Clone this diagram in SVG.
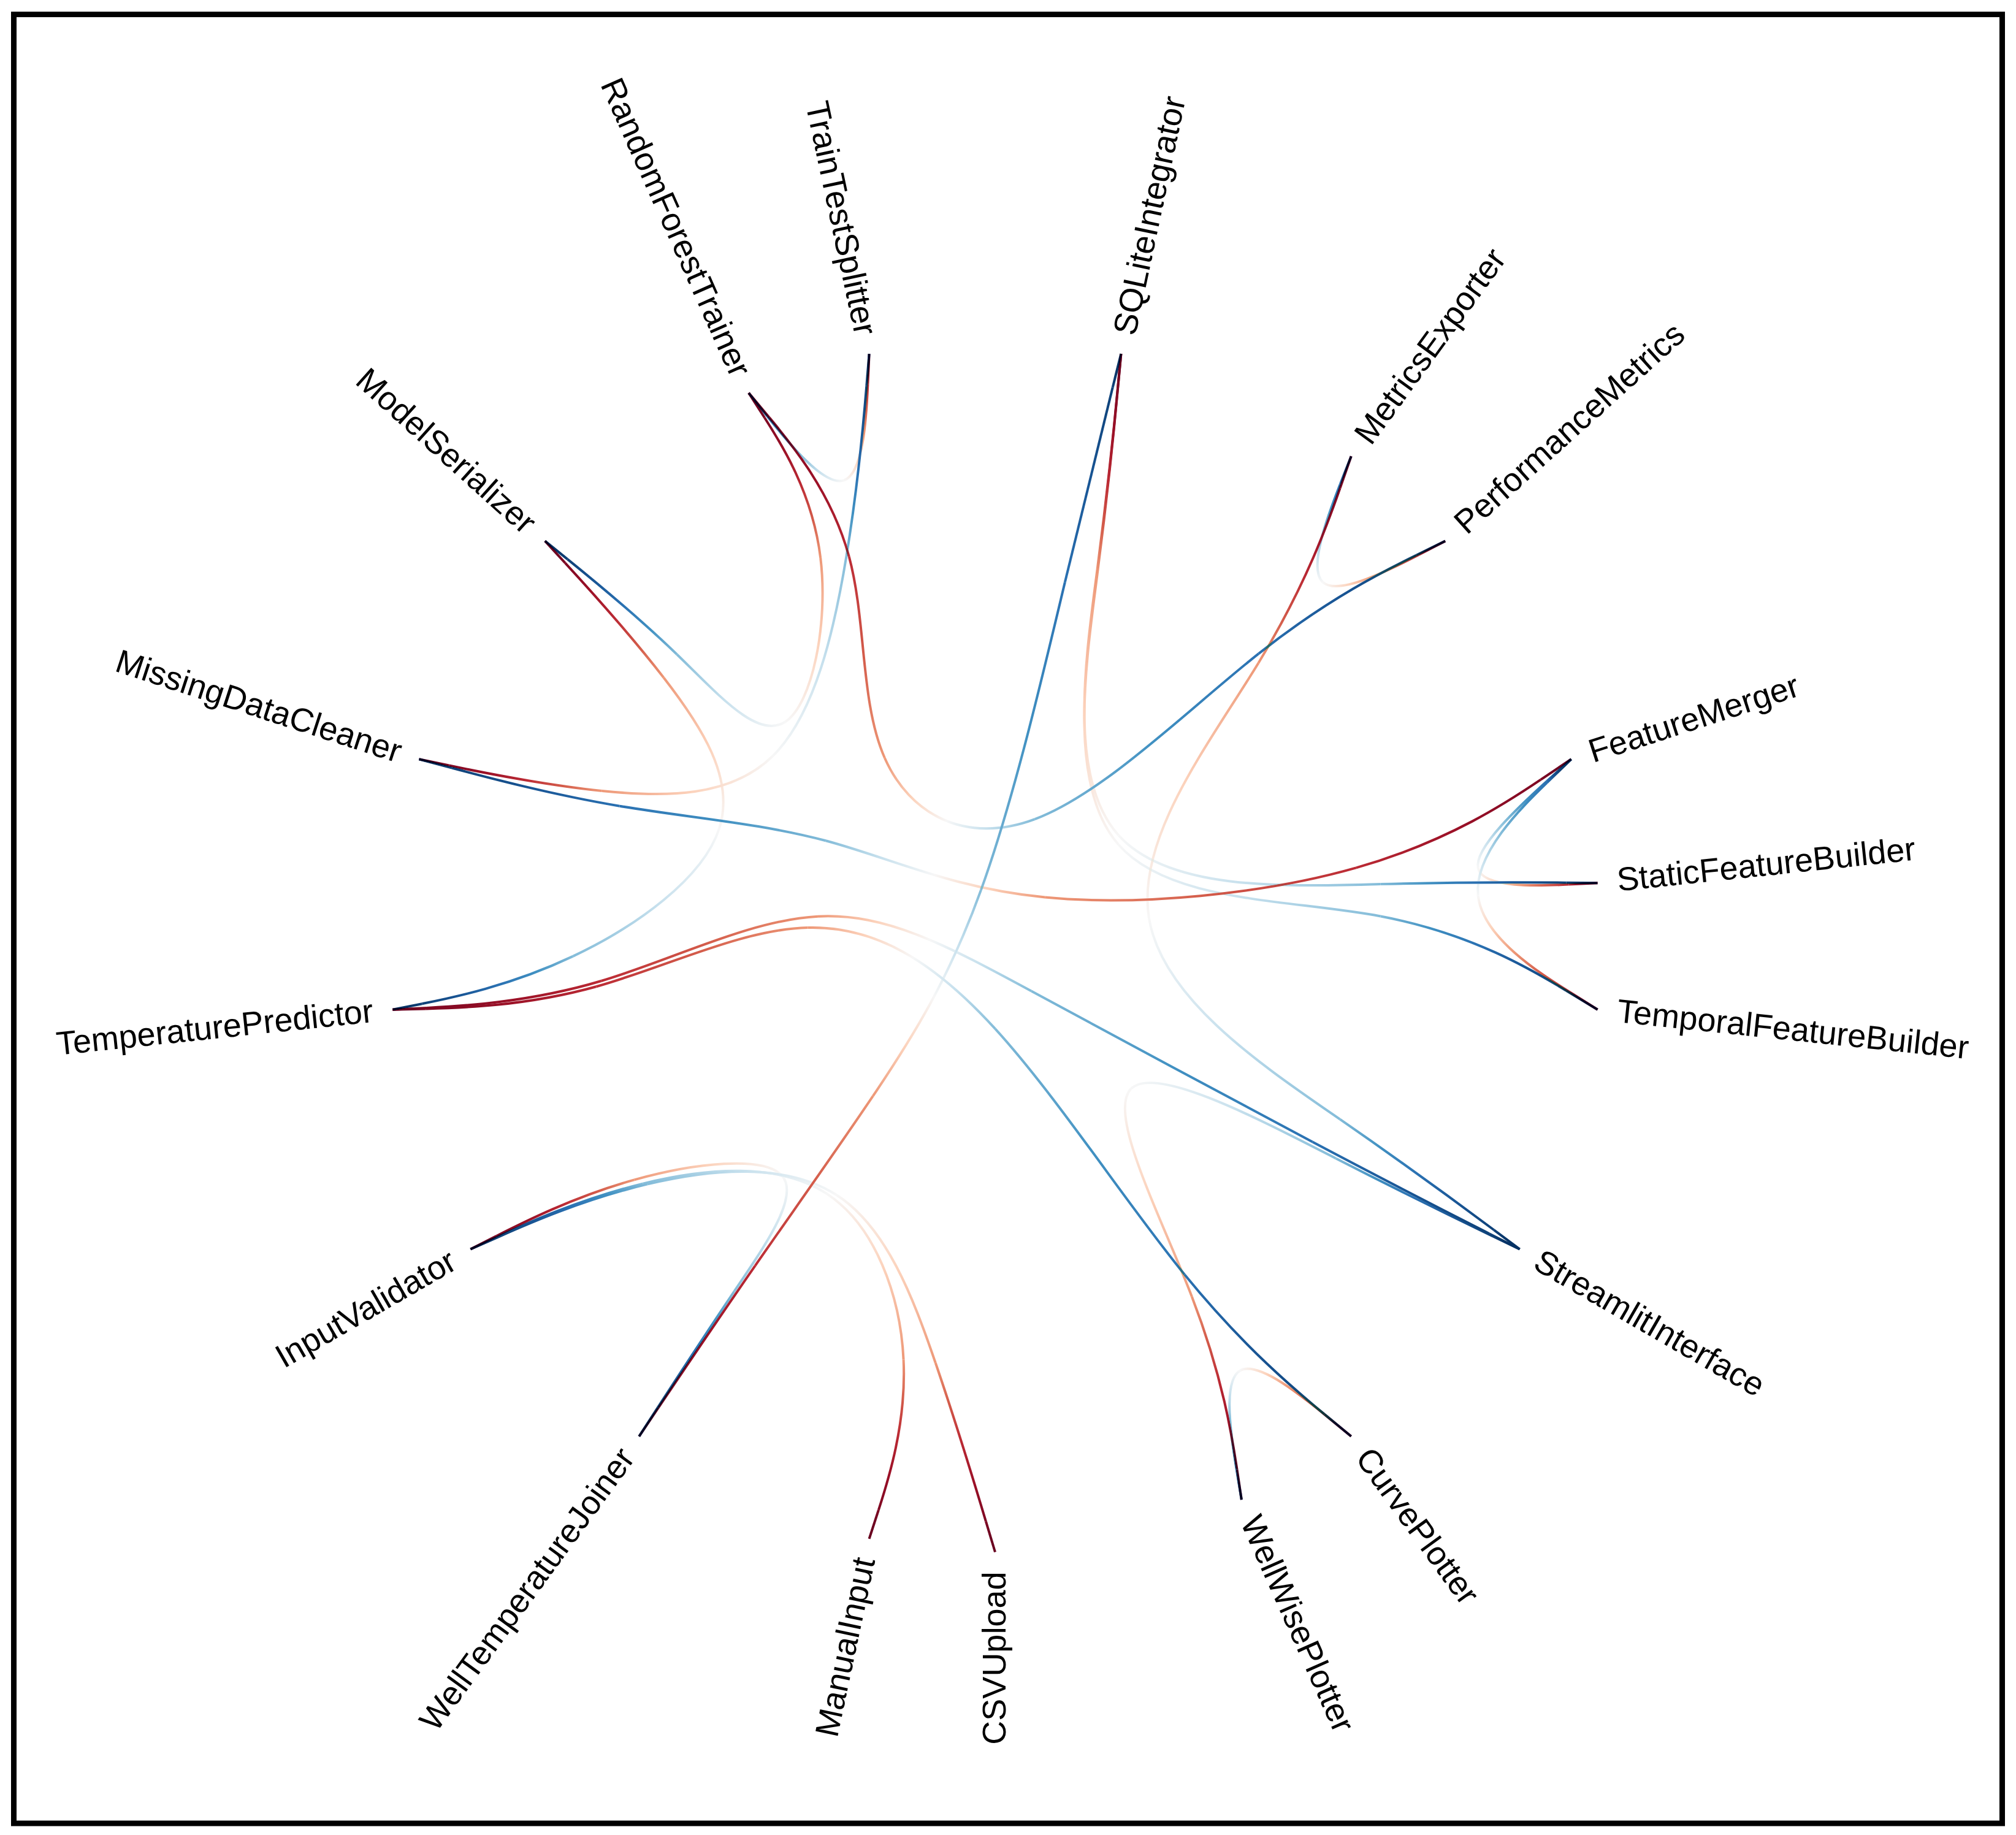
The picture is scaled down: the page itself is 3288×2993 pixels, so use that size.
<svg xmlns="http://www.w3.org/2000/svg" xmlns:xlink="http://www.w3.org/1999/xlink" width="3288" height="2993" viewBox="0 0 3288 2993">
<style>
.e{fill:none;stroke-width:4;mix-blend-mode:darken}
text{font-family:"Liberation Sans",Arial,Helvetica,sans-serif;font-size:54px;fill:#000}
</style>
<defs>
<linearGradient id="r0"><stop offset="0" stop-color="#67001f"/><stop offset=".25" stop-color="#6d0220"/><stop offset=".5" stop-color="#7e0823"/><stop offset=".75" stop-color="#9c1127"/><stop offset="1" stop-color="#bb2a34"/></linearGradient>
<linearGradient id="r1"><stop offset="0" stop-color="#bb2a34"/><stop offset=".25" stop-color="#d45d4b"/><stop offset=".5" stop-color="#ee9877"/><stop offset=".75" stop-color="#fcd2bb"/><stop offset="1" stop-color="#f7f7f7"/></linearGradient>
<linearGradient id="r2"><stop offset="0" stop-color="#f7f7f7"/><stop offset=".25" stop-color="#c6e0ed"/><stop offset=".5" stop-color="#83bcd9"/><stop offset=".75" stop-color="#4191c2"/><stop offset="1" stop-color="#2a71b2"/></linearGradient>
<linearGradient id="r3"><stop offset="0" stop-color="#2a71b2"/><stop offset=".25" stop-color="#195696"/><stop offset=".5" stop-color="#0e4178"/><stop offset=".75" stop-color="#073467"/><stop offset="1" stop-color="#053061"/></linearGradient>
<linearGradient id="q0"><stop offset="0" stop-color="#67001f"/><stop offset=".5" stop-color="#6d0220"/><stop offset="1" stop-color="#7e0823"/></linearGradient>
<linearGradient id="q1"><stop offset="0" stop-color="#7e0823"/><stop offset=".25" stop-color="#9c1127"/><stop offset=".5" stop-color="#bb2a34"/><stop offset=".75" stop-color="#d45d4b"/><stop offset="1" stop-color="#ee9877"/></linearGradient>
<linearGradient id="q2"><stop offset="0" stop-color="#ee9877"/><stop offset=".5" stop-color="#fcd2bb"/><stop offset="1" stop-color="#f7f7f7"/></linearGradient>
<linearGradient id="q3"><stop offset="0" stop-color="#f7f7f7"/><stop offset=".5" stop-color="#c6e0ed"/><stop offset="1" stop-color="#83bcd9"/></linearGradient>
<linearGradient id="q4"><stop offset="0" stop-color="#83bcd9"/><stop offset=".25" stop-color="#4191c2"/><stop offset=".5" stop-color="#2a71b2"/><stop offset=".75" stop-color="#195696"/><stop offset="1" stop-color="#0e4178"/></linearGradient>
<linearGradient id="q5"><stop offset="0" stop-color="#0e4178"/><stop offset=".5" stop-color="#073467"/><stop offset="1" stop-color="#053061"/></linearGradient>
<linearGradient id="h1"><stop offset="0" stop-color="#7e0823"/><stop offset=".5" stop-color="#9c1127"/><stop offset="1" stop-color="#bb2a34"/></linearGradient>
<linearGradient id="h2"><stop offset="0" stop-color="#bb2a34"/><stop offset=".5" stop-color="#d45d4b"/><stop offset="1" stop-color="#ee9877"/></linearGradient>
<linearGradient id="h3"><stop offset="0" stop-color="#ee9877"/><stop offset=".25" stop-color="#fcd2bb"/><stop offset=".5" stop-color="#f7f7f7"/><stop offset=".75" stop-color="#c6e0ed"/><stop offset="1" stop-color="#83bcd9"/></linearGradient>
<linearGradient id="h4"><stop offset="0" stop-color="#83bcd9"/><stop offset=".5" stop-color="#4191c2"/><stop offset="1" stop-color="#2a71b2"/></linearGradient>
<linearGradient id="h5"><stop offset="0" stop-color="#2a71b2"/><stop offset=".5" stop-color="#195696"/><stop offset="1" stop-color="#0e4178"/></linearGradient>

<linearGradient id="e1a" xlink:href="#r0" gradientUnits="userSpaceOnUse" x1="1417.6" y1="577.1" x2="1415.4" y2="626.1"/>
<linearGradient id="e1b" xlink:href="#r1" gradientUnits="userSpaceOnUse" x1="1415.4" y1="626.1" x2="1376.1" y2="783.6"/>
<linearGradient id="e1c" xlink:href="#r2" gradientUnits="userSpaceOnUse" x1="1376.1" y1="783.6" x2="1251.7" y2="679.2"/>
<linearGradient id="e1d" xlink:href="#r3" gradientUnits="userSpaceOnUse" x1="1251.7" y1="679.2" x2="1221.1" y2="640.9"/>

<linearGradient id="e10a" xlink:href="#r0" gradientUnits="userSpaceOnUse" x1="2357.2" y1="882.4" x2="2313.7" y2="905"/>
<linearGradient id="e10b" xlink:href="#r1" gradientUnits="userSpaceOnUse" x1="2313.7" y1="905" x2="2157.6" y2="949.7"/>
<linearGradient id="e10c" xlink:href="#r2" gradientUnits="userSpaceOnUse" x1="2157.6" y1="949.7" x2="2185.8" y2="789.8"/>
<linearGradient id="e10d" xlink:href="#r3" gradientUnits="userSpaceOnUse" x1="2185.8" y1="789.8" x2="2203.7" y2="744.2"/>

<linearGradient id="e12a" xlink:href="#r0" gradientUnits="userSpaceOnUse" x1="2605.6" y1="1440.2" x2="2558.7" y2="1442.6"/>
<linearGradient id="e12b" xlink:href="#r1" gradientUnits="userSpaceOnUse" x1="2558.7" y1="1442.6" x2="2410.7" y2="1415.9"/>
<linearGradient id="e12c" xlink:href="#r2" gradientUnits="userSpaceOnUse" x1="2410.7" y1="1415.9" x2="2522.8" y2="1274.2"/>
<linearGradient id="e12d" xlink:href="#r3" gradientUnits="userSpaceOnUse" x1="2522.8" y1="1274.2" x2="2562.6" y2="1238.2"/>

<linearGradient id="e13a" xlink:href="#r0" gradientUnits="userSpaceOnUse" x1="2605.6" y1="1646.8" x2="2558.7" y2="1617.3"/>
<linearGradient id="e13b" xlink:href="#r1" gradientUnits="userSpaceOnUse" x1="2558.7" y1="1617.3" x2="2410.7" y2="1460.7"/>
<linearGradient id="e13c" xlink:href="#r2" gradientUnits="userSpaceOnUse" x1="2410.7" y1="1460.7" x2="2522.8" y2="1276.8"/>
<linearGradient id="e13d" xlink:href="#r3" gradientUnits="userSpaceOnUse" x1="2522.8" y1="1276.8" x2="2562.6" y2="1238.2"/>

<linearGradient id="e17a" xlink:href="#r0" gradientUnits="userSpaceOnUse" x1="2203.7" y1="2342.8" x2="2165.9" y2="2311.7"/>
<linearGradient id="e17b" xlink:href="#r1" gradientUnits="userSpaceOnUse" x1="2165.9" y1="2311.7" x2="2022.5" y2="2235.5"/>
<linearGradient id="e17c" xlink:href="#r2" gradientUnits="userSpaceOnUse" x1="2022.5" y1="2235.5" x2="2016.9" y2="2397.8"/>
<linearGradient id="e17d" xlink:href="#r3" gradientUnits="userSpaceOnUse" x1="2016.9" y1="2397.8" x2="2024.9" y2="2446.1"/>

<linearGradient id="e2a" xlink:href="#q0" gradientUnits="userSpaceOnUse" x1="1221.1" y1="640.9" x2="1247.1" y2="681.5"/>
<linearGradient id="e2b" xlink:href="#q1" gradientUnits="userSpaceOnUse" x1="1247.1" y1="681.5" x2="1338.2" y2="909.9"/>
<linearGradient id="e2c" xlink:href="#q2" gradientUnits="userSpaceOnUse" x1="1338.2" y1="909.9" x2="1280.5" y2="1177.5"/>
<linearGradient id="e2d" xlink:href="#q3" gradientUnits="userSpaceOnUse" x1="1280.5" y1="1177.5" x2="1104.2" y2="1067.5"/>
<linearGradient id="e2e" xlink:href="#q4" gradientUnits="userSpaceOnUse" x1="1104.2" y1="1067.5" x2="925.6" y2="912.1"/>
<linearGradient id="e2f" xlink:href="#q5" gradientUnits="userSpaceOnUse" x1="925.6" y1="912.1" x2="888.8" y2="882.4"/>

<linearGradient id="e4a" xlink:href="#q0" gradientUnits="userSpaceOnUse" x1="888.8" y1="882.4" x2="921.9" y2="918.4"/>
<linearGradient id="e4b" xlink:href="#q1" gradientUnits="userSpaceOnUse" x1="921.9" y1="918.4" x2="1082.4" y2="1105.2"/>
<linearGradient id="e4c" xlink:href="#q2" gradientUnits="userSpaceOnUse" x1="1082.4" y1="1105.2" x2="1173" y2="1351.5"/>
<linearGradient id="e4d" xlink:href="#q3" gradientUnits="userSpaceOnUse" x1="1173" y1="1351.5" x2="934.7" y2="1559.6"/>
<linearGradient id="e4e" xlink:href="#q4" gradientUnits="userSpaceOnUse" x1="934.7" y1="1559.6" x2="688.4" y2="1637.2"/>
<linearGradient id="e4f" xlink:href="#q5" gradientUnits="userSpaceOnUse" x1="688.4" y1="1637.2" x2="640.4" y2="1646.8"/>

<linearGradient id="e5a" xlink:href="#q0" gradientUnits="userSpaceOnUse" x1="683.4" y1="1238.2" x2="732.3" y2="1248.5"/>
<linearGradient id="e5b" xlink:href="#q1" gradientUnits="userSpaceOnUse" x1="732.3" y1="1248.5" x2="981.7" y2="1290"/>
<linearGradient id="e5c" xlink:href="#q2" gradientUnits="userSpaceOnUse" x1="981.7" y1="1290" x2="1260.5" y2="1233"/>
<linearGradient id="e5d" xlink:href="#q3" gradientUnits="userSpaceOnUse" x1="1260.5" y1="1233" x2="1380.5" y2="907"/>
<linearGradient id="e5e" xlink:href="#q4" gradientUnits="userSpaceOnUse" x1="1380.5" y1="907" x2="1413.3" y2="629.3"/>
<linearGradient id="e5f" xlink:href="#q5" gradientUnits="userSpaceOnUse" x1="1413.3" y1="629.3" x2="1417.6" y2="577.1"/>

<linearGradient id="e8a" xlink:href="#q0" gradientUnits="userSpaceOnUse" x1="1828.4" y1="577.1" x2="1823.5" y2="628.1"/>
<linearGradient id="e8b" xlink:href="#q1" gradientUnits="userSpaceOnUse" x1="1823.5" y1="628.1" x2="1789.6" y2="928.9"/>
<linearGradient id="e8c" xlink:href="#q2" gradientUnits="userSpaceOnUse" x1="1789.6" y1="928.9" x2="1824.3" y2="1362.3"/>
<linearGradient id="e8d" xlink:href="#q3" gradientUnits="userSpaceOnUse" x1="1824.3" y1="1362.3" x2="2251.7" y2="1442"/>
<linearGradient id="e8e" xlink:href="#q4" gradientUnits="userSpaceOnUse" x1="2251.7" y1="1442" x2="2554.4" y2="1439.7"/>
<linearGradient id="e8f" xlink:href="#q5" gradientUnits="userSpaceOnUse" x1="2554.4" y1="1439.7" x2="2605.6" y2="1440.2"/>

<linearGradient id="e9a" xlink:href="#q0" gradientUnits="userSpaceOnUse" x1="1828.4" y1="577.1" x2="1823.5" y2="629.4"/>
<linearGradient id="e9b" xlink:href="#q1" gradientUnits="userSpaceOnUse" x1="1823.5" y1="629.4" x2="1789.6" y2="936.7"/>
<linearGradient id="e9c" xlink:href="#q2" gradientUnits="userSpaceOnUse" x1="1789.6" y1="936.7" x2="1824.3" y2="1377.8"/>
<linearGradient id="e9d" xlink:href="#q3" gradientUnits="userSpaceOnUse" x1="1824.3" y1="1377.8" x2="2251.7" y2="1494.5"/>
<linearGradient id="e9e" xlink:href="#q4" gradientUnits="userSpaceOnUse" x1="2251.7" y1="1494.5" x2="2554.4" y2="1615.7"/>
<linearGradient id="e9f" xlink:href="#q5" gradientUnits="userSpaceOnUse" x1="2554.4" y1="1615.7" x2="2605.6" y2="1646.8"/>

<linearGradient id="e11a" xlink:href="#q0" gradientUnits="userSpaceOnUse" x1="2203.7" y1="744.2" x2="2185.6" y2="796.2"/>
<linearGradient id="e11b" xlink:href="#q1" gradientUnits="userSpaceOnUse" x1="2185.6" y1="796.2" x2="2052.4" y2="1081.5"/>
<linearGradient id="e11c" xlink:href="#q2" gradientUnits="userSpaceOnUse" x1="2052.4" y1="1081.5" x2="1874" y2="1497.9"/>
<linearGradient id="e11d" xlink:href="#q3" gradientUnits="userSpaceOnUse" x1="1874" y1="1497.9" x2="2185.5" y2="1825.7"/>
<linearGradient id="e11e" xlink:href="#q4" gradientUnits="userSpaceOnUse" x1="2185.5" y1="1825.7" x2="2436.5" y2="2006.1"/>
<linearGradient id="e11f" xlink:href="#q5" gradientUnits="userSpaceOnUse" x1="2436.5" y1="2006.1" x2="2478.6" y2="2037.5"/>

<linearGradient id="e16a" xlink:href="#q0" gradientUnits="userSpaceOnUse" x1="2024.9" y1="2446.1" x2="2017.5" y2="2396.5"/>
<linearGradient id="e16b" xlink:href="#q1" gradientUnits="userSpaceOnUse" x1="2017.5" y1="2396.5" x2="1943.8" y2="2114.7"/>
<linearGradient id="e16c" xlink:href="#q2" gradientUnits="userSpaceOnUse" x1="1943.8" y1="2114.7" x2="1844.8" y2="1775.7"/>
<linearGradient id="e16d" xlink:href="#q3" gradientUnits="userSpaceOnUse" x1="1844.8" y1="1775.7" x2="2178.8" y2="1889.5"/>
<linearGradient id="e16e" xlink:href="#q4" gradientUnits="userSpaceOnUse" x1="2178.8" y1="1889.5" x2="2435.4" y2="2016.7"/>
<linearGradient id="e16f" xlink:href="#q5" gradientUnits="userSpaceOnUse" x1="2435.4" y1="2016.7" x2="2478.6" y2="2037.5"/>

<linearGradient id="e18a" xlink:href="#q0" gradientUnits="userSpaceOnUse" x1="1623" y1="2531.5" x2="1607.9" y2="2481.3"/>
<linearGradient id="e18b" xlink:href="#q1" gradientUnits="userSpaceOnUse" x1="1607.9" y1="2481.3" x2="1525.8" y2="2223"/>
<linearGradient id="e18c" xlink:href="#q2" gradientUnits="userSpaceOnUse" x1="1525.8" y1="2223" x2="1363.9" y2="1948.8"/>
<linearGradient id="e18d" xlink:href="#q3" gradientUnits="userSpaceOnUse" x1="1363.9" y1="1948.8" x2="1056.2" y2="1931.4"/>
<linearGradient id="e18e" xlink:href="#q4" gradientUnits="userSpaceOnUse" x1="1056.2" y1="1931.4" x2="813.2" y2="2017.3"/>
<linearGradient id="e18f" xlink:href="#q5" gradientUnits="userSpaceOnUse" x1="813.2" y1="2017.3" x2="767.4" y2="2037.5"/>

<linearGradient id="e19a" xlink:href="#q0" gradientUnits="userSpaceOnUse" x1="1417.6" y1="2509.9" x2="1432.9" y2="2462.9"/>
<linearGradient id="e19b" xlink:href="#q1" gradientUnits="userSpaceOnUse" x1="1432.9" y1="2462.9" x2="1473.6" y2="2217.6"/>
<linearGradient id="e19c" xlink:href="#q2" gradientUnits="userSpaceOnUse" x1="1473.6" y1="2217.6" x2="1348.5" y2="1947.2"/>
<linearGradient id="e19d" xlink:href="#q3" gradientUnits="userSpaceOnUse" x1="1348.5" y1="1947.2" x2="1048.5" y2="1930.6"/>
<linearGradient id="e19e" xlink:href="#q4" gradientUnits="userSpaceOnUse" x1="1048.5" y1="1930.6" x2="811.9" y2="2017.1"/>
<linearGradient id="e19f" xlink:href="#q5" gradientUnits="userSpaceOnUse" x1="811.9" y1="2017.1" x2="767.4" y2="2037.5"/>

<linearGradient id="e20a" xlink:href="#q0" gradientUnits="userSpaceOnUse" x1="767.4" y1="2037.5" x2="809.5" y2="2016.1"/>
<linearGradient id="e20b" xlink:href="#q1" gradientUnits="userSpaceOnUse" x1="809.5" y1="2016.1" x2="1034.4" y2="1924.4"/>
<linearGradient id="e20c" xlink:href="#q2" gradientUnits="userSpaceOnUse" x1="1034.4" y1="1924.4" x2="1275.2" y2="1917.4"/>
<linearGradient id="e20d" xlink:href="#q3" gradientUnits="userSpaceOnUse" x1="1275.2" y1="1917.4" x2="1197.8" y2="2105.8"/>
<linearGradient id="e20e" xlink:href="#q4" gradientUnits="userSpaceOnUse" x1="1197.8" y1="2105.8" x2="1068" y2="2303.2"/>
<linearGradient id="e20f" xlink:href="#q5" gradientUnits="userSpaceOnUse" x1="1068" y1="2303.2" x2="1042.3" y2="2342.8"/>

<linearGradient id="e3a" xlink:href="#q0" gradientUnits="userSpaceOnUse" x1="1221.1" y1="640.9" x2="1254.9" y2="681.2"/>
<linearGradient id="e3b" xlink:href="#h1" gradientUnits="userSpaceOnUse" x1="1254.9" y1="681.2" x2="1384.8" y2="908.1"/>
<linearGradient id="e3c" xlink:href="#h2" gradientUnits="userSpaceOnUse" x1="1384.8" y1="908.1" x2="1442.9" y2="1236.3"/>
<linearGradient id="e3d" xlink:href="#h3" gradientUnits="userSpaceOnUse" x1="1442.9" y1="1236.3" x2="1687.7" y2="1336.2"/>
<linearGradient id="e3e" xlink:href="#h4" gradientUnits="userSpaceOnUse" x1="1687.7" y1="1336.2" x2="2052.8" y2="1066.1"/>
<linearGradient id="e3f" xlink:href="#h5" gradientUnits="userSpaceOnUse" x1="2052.8" y1="1066.1" x2="2310" y2="905.5"/>
<linearGradient id="e3g" xlink:href="#q5" gradientUnits="userSpaceOnUse" x1="2310" y1="905.5" x2="2357.2" y2="882.4"/>

<linearGradient id="e6a" xlink:href="#q0" gradientUnits="userSpaceOnUse" x1="2562.6" y1="1238.2" x2="2512.9" y2="1271.7"/>
<linearGradient id="e6b" xlink:href="#h1" gradientUnits="userSpaceOnUse" x1="2512.9" y1="1271.7" x2="2211.9" y2="1415.4"/>
<linearGradient id="e6c" xlink:href="#h2" gradientUnits="userSpaceOnUse" x1="2211.9" y1="1415.4" x2="1704.2" y2="1463.6"/>
<linearGradient id="e6d" xlink:href="#h3" gradientUnits="userSpaceOnUse" x1="1704.2" y1="1463.6" x2="1346.9" y2="1371.3"/>
<linearGradient id="e6e" xlink:href="#h4" gradientUnits="userSpaceOnUse" x1="1346.9" y1="1371.3" x2="1010.6" y2="1314.7"/>
<linearGradient id="e6f" xlink:href="#h5" gradientUnits="userSpaceOnUse" x1="1010.6" y1="1314.7" x2="737.2" y2="1252.6"/>
<linearGradient id="e6g" xlink:href="#q5" gradientUnits="userSpaceOnUse" x1="737.2" y1="1252.6" x2="683.4" y2="1238.2"/>

<linearGradient id="e7a" xlink:href="#q0" gradientUnits="userSpaceOnUse" x1="1042.3" y1="2342.8" x2="1073.7" y2="2296.2"/>
<linearGradient id="e7b" xlink:href="#h1" gradientUnits="userSpaceOnUse" x1="1073.7" y1="2296.2" x2="1231.7" y2="2064.3"/>
<linearGradient id="e7c" xlink:href="#h2" gradientUnits="userSpaceOnUse" x1="1231.7" y1="2064.3" x2="1423.8" y2="1787.7"/>
<linearGradient id="e7d" xlink:href="#h3" gradientUnits="userSpaceOnUse" x1="1423.8" y1="1787.7" x2="1599.9" y2="1451.9"/>
<linearGradient id="e7e" xlink:href="#h4" gradientUnits="userSpaceOnUse" x1="1599.9" y1="1451.9" x2="1736.9" y2="949.5"/>
<linearGradient id="e7f" xlink:href="#h5" gradientUnits="userSpaceOnUse" x1="1736.9" y1="949.5" x2="1814.8" y2="631.6"/>
<linearGradient id="e7g" xlink:href="#q5" gradientUnits="userSpaceOnUse" x1="1814.8" y1="631.6" x2="1828.4" y2="577.1"/>

<linearGradient id="e14a" xlink:href="#q0" gradientUnits="userSpaceOnUse" x1="640.4" y1="1646.8" x2="696" y2="1643.9"/>
<linearGradient id="e14b" xlink:href="#h1" gradientUnits="userSpaceOnUse" x1="696" y1="1643.9" x2="980.5" y2="1600"/>
<linearGradient id="e14c" xlink:href="#h2" gradientUnits="userSpaceOnUse" x1="980.5" y1="1600" x2="1334" y2="1494.7"/>
<linearGradient id="e14d" xlink:href="#h3" gradientUnits="userSpaceOnUse" x1="1334" y1="1494.7" x2="1682.1" y2="1616.5"/>
<linearGradient id="e14e" xlink:href="#h4" gradientUnits="userSpaceOnUse" x1="1682.1" y1="1616.5" x2="2140.6" y2="1862.5"/>
<linearGradient id="e14f" xlink:href="#h5" gradientUnits="userSpaceOnUse" x1="2140.6" y1="1862.5" x2="2429" y2="2012.2"/>
<linearGradient id="e14g" xlink:href="#q5" gradientUnits="userSpaceOnUse" x1="2429" y1="2012.2" x2="2478.6" y2="2037.5"/>

<linearGradient id="e15a" xlink:href="#q0" gradientUnits="userSpaceOnUse" x1="640.4" y1="1646.8" x2="694.6" y2="1645.4"/>
<linearGradient id="e15b" xlink:href="#h1" gradientUnits="userSpaceOnUse" x1="694.6" y1="1645.4" x2="972.3" y2="1609.2"/>
<linearGradient id="e15c" xlink:href="#h2" gradientUnits="userSpaceOnUse" x1="972.3" y1="1609.2" x2="1317.5" y2="1513"/>
<linearGradient id="e15d" xlink:href="#h3" gradientUnits="userSpaceOnUse" x1="1317.5" y1="1513" x2="1623.2" y2="1678.1"/>
<linearGradient id="e15e" xlink:href="#h4" gradientUnits="userSpaceOnUse" x1="1623.2" y1="1678.1" x2="1932.1" y2="2079"/>
<linearGradient id="e15f" xlink:href="#h5" gradientUnits="userSpaceOnUse" x1="1932.1" y1="2079" x2="2160.3" y2="2306.9"/>
<linearGradient id="e15g" xlink:href="#q5" gradientUnits="userSpaceOnUse" x1="2160.3" y1="2306.9" x2="2203.7" y2="2342.8"/>
</defs>

<rect x="0" y="0" width="3288" height="2993" fill="#ffffff"/>
<rect x="22.5" y="23.5" width="3243" height="2950.5" fill="none" stroke="#000" stroke-width="9"/>

<g id="connectors">
<g id="edge-TrainTestSplitter-RandomForestTrainer">
<path class="e" stroke="url(#e1a)" d="M1417.6,577.1 L1415.4,626.1"/>
<path class="e" stroke="url(#e1b)" d="M1415.4,626.1 C1413.2,675 1408.9,773 1376.1,783.6"/>
<path class="e" stroke="url(#e1c)" d="M1376.1,783.6 C1343.4,794.2 1282.2,717.6 1251.7,679.2"/>
<path class="e" stroke="url(#e1d)" d="M1251.7,679.2 L1221.1,640.9"/>
</g>
<g id="edge-RandomForestTrainer-ModelSerializer">
<path class="e" stroke="url(#e2a)" d="M1221.1,640.9 L1247.1,681.5"/>
<path class="e" stroke="url(#e2b)" d="M1247.1,681.5 C1273.2,722.2 1325.2,803.4 1338.2,909.9"/>
<path class="e" stroke="url(#e2c)" d="M1338.2,909.9 C1351.2,1016.4 1325.2,1148.2 1280.5,1177.5"/>
<path class="e" stroke="url(#e2d)" d="M1280.5,1177.5 C1235.8,1206.8 1172.6,1133.8 1104.2,1067.5"/>
<path class="e" stroke="url(#e2e)" d="M1104.2,1067.5 C1035.8,1001.3 962.3,941.8 925.6,912.1"/>
<path class="e" stroke="url(#e2f)" d="M925.6,912.1 L888.8,882.4"/>
</g>
<g id="edge-RandomForestTrainer-PerformanceMetrics">
<path class="e" stroke="url(#e3a)" d="M1221.1,640.9 L1254.9,681.2"/>
<path class="e" stroke="url(#e3b)" d="M1254.9,681.2 C1288.7,721.6 1356.2,802.2 1384.8,908.1"/>
<path class="e" stroke="url(#e3c)" d="M1384.8,908.1 C1413.3,1014 1402.7,1145.2 1442.9,1236.3"/>
<path class="e" stroke="url(#e3d)" d="M1442.9,1236.3 C1483.1,1327.5 1574.1,1378.7 1687.7,1336.2"/>
<path class="e" stroke="url(#e3e)" d="M1687.7,1336.2 C1801.2,1293.6 1937.5,1157.3 2052.8,1066.1"/>
<path class="e" stroke="url(#e3f)" d="M2052.8,1066.1 C2168.2,974.8 2262.7,928.6 2310,905.5"/>
<path class="e" stroke="url(#e3g)" d="M2310,905.5 L2357.2,882.4"/>
</g>
<g id="edge-ModelSerializer-TemperaturePredictor">
<path class="e" stroke="url(#e4a)" d="M888.8,882.4 L921.9,918.4"/>
<path class="e" stroke="url(#e4b)" d="M921.9,918.4 C955,954.4 1021.3,1026.4 1082.4,1105.2"/>
<path class="e" stroke="url(#e4c)" d="M1082.4,1105.2 C1143.5,1184.1 1199.6,1269.7 1173,1351.5"/>
<path class="e" stroke="url(#e4d)" d="M1173,1351.5 C1146.4,1433.2 1037.3,1511.1 934.7,1559.6"/>
<path class="e" stroke="url(#e4e)" d="M934.7,1559.6 C832.2,1608.2 736.3,1627.5 688.4,1637.2"/>
<path class="e" stroke="url(#e4f)" d="M688.4,1637.2 L640.4,1646.8"/>
</g>
<g id="edge-MissingDataCleaner-TrainTestSplitter">
<path class="e" stroke="url(#e5a)" d="M683.4,1238.2 L732.3,1248.5"/>
<path class="e" stroke="url(#e5b)" d="M732.3,1248.5 C781.2,1258.8 879.2,1279.3 981.7,1290"/>
<path class="e" stroke="url(#e5c)" d="M981.7,1290 C1084.2,1300.5 1191.4,1301.2 1260.5,1233"/>
<path class="e" stroke="url(#e5d)" d="M1260.5,1233 C1329.6,1164.8 1360.6,1027.8 1380.5,907"/>
<path class="e" stroke="url(#e5e)" d="M1380.5,907 C1400.3,786.2 1409,681.6 1413.3,629.3"/>
<path class="e" stroke="url(#e5f)" d="M1413.3,629.3 L1417.6,577.1"/>
</g>
<g id="edge-FeatureMerger-MissingDataCleaner">
<path class="e" stroke="url(#e6a)" d="M2562.6,1238.2 L2512.9,1271.7"/>
<path class="e" stroke="url(#e6b)" d="M2512.9,1271.7 C2463.2,1305.2 2363.8,1372.1 2211.9,1415.4"/>
<path class="e" stroke="url(#e6c)" d="M2211.9,1415.4 C2060,1458.6 1855.6,1478.2 1704.2,1463.6"/>
<path class="e" stroke="url(#e6d)" d="M1704.2,1463.6 C1552.8,1448.9 1454.5,1400.2 1346.9,1371.3"/>
<path class="e" stroke="url(#e6e)" d="M1346.9,1371.3 C1239.4,1342.5 1122.7,1333.6 1010.6,1314.7"/>
<path class="e" stroke="url(#e6f)" d="M1010.6,1314.7 C898.5,1295.9 790.9,1267 737.2,1252.6"/>
<path class="e" stroke="url(#e6g)" d="M737.2,1252.6 L683.4,1238.2"/>
</g>
<g id="edge-WellTemperatureJoiner-SQLiteIntegrator">
<path class="e" stroke="url(#e7a)" d="M1042.3,2342.8 L1073.7,2296.2"/>
<path class="e" stroke="url(#e7b)" d="M1073.7,2296.2 C1105,2249.7 1167.7,2156.5 1231.7,2064.3"/>
<path class="e" stroke="url(#e7c)" d="M1231.7,2064.3 C1295.8,1972.1 1361.1,1880.8 1423.8,1787.7"/>
<path class="e" stroke="url(#e7d)" d="M1423.8,1787.7 C1486.5,1694.5 1546.6,1599.5 1599.9,1451.9"/>
<path class="e" stroke="url(#e7e)" d="M1599.9,1451.9 C1653.3,1304.3 1699.9,1104.1 1736.9,949.5"/>
<path class="e" stroke="url(#e7f)" d="M1736.9,949.5 C1773.9,795 1801.1,686 1814.8,631.6"/>
<path class="e" stroke="url(#e7g)" d="M1814.8,631.6 L1828.4,577.1"/>
</g>
<g id="edge-SQLiteIntegrator-StaticFeatureBuilder">
<path class="e" stroke="url(#e8a)" d="M1828.4,577.1 L1823.5,628.1"/>
<path class="e" stroke="url(#e8b)" d="M1823.5,628.1 C1818.7,679.2 1809,781.2 1789.6,928.9"/>
<path class="e" stroke="url(#e8c)" d="M1789.6,928.9 C1770.2,1076.6 1741.2,1270 1824.3,1362.3"/>
<path class="e" stroke="url(#e8d)" d="M1824.3,1362.3 C1907.4,1454.6 2102.8,1445.8 2251.7,1442"/>
<path class="e" stroke="url(#e8e)" d="M2251.7,1442 C2400.6,1438.1 2503.1,1439.2 2554.4,1439.7"/>
<path class="e" stroke="url(#e8f)" d="M2554.4,1439.7 L2605.6,1440.2"/>
</g>
<g id="edge-SQLiteIntegrator-TemporalFeatureBuilder">
<path class="e" stroke="url(#e9a)" d="M1828.4,577.1 L1823.5,629.4"/>
<path class="e" stroke="url(#e9b)" d="M1823.5,629.4 C1818.7,681.7 1809,786.4 1789.6,936.7"/>
<path class="e" stroke="url(#e9c)" d="M1789.6,936.7 C1770.2,1086.9 1741.2,1282.9 1824.3,1377.8"/>
<path class="e" stroke="url(#e9d)" d="M1824.3,1377.8 C1907.4,1472.6 2102.8,1466.5 2251.7,1494.5"/>
<path class="e" stroke="url(#e9e)" d="M2251.7,1494.5 C2400.6,1522.5 2503.1,1584.6 2554.4,1615.7"/>
<path class="e" stroke="url(#e9f)" d="M2554.4,1615.7 L2605.6,1646.8"/>
</g>
<g id="edge-PerformanceMetrics-MetricsExporter">
<path class="e" stroke="url(#e10a)" d="M2357.2,882.4 L2313.7,905"/>
<path class="e" stroke="url(#e10b)" d="M2313.7,905 C2270.2,927.6 2183.2,972.7 2157.6,949.7"/>
<path class="e" stroke="url(#e10c)" d="M2157.6,949.7 C2132,926.7 2167.9,835.4 2185.8,789.8"/>
<path class="e" stroke="url(#e10d)" d="M2185.8,789.8 L2203.7,744.2"/>
</g>
<g id="edge-MetricsExporter-StreamlitInterface">
<path class="e" stroke="url(#e11a)" d="M2203.7,744.2 L2185.6,796.2"/>
<path class="e" stroke="url(#e11b)" d="M2185.6,796.2 C2167.5,848.1 2131.2,952.1 2052.4,1081.5"/>
<path class="e" stroke="url(#e11c)" d="M2052.4,1081.5 C1973.6,1210.9 1852.1,1365.7 1874,1497.9"/>
<path class="e" stroke="url(#e11d)" d="M1874,1497.9 C1895.8,1630.1 2060.8,1739.5 2185.5,1825.7"/>
<path class="e" stroke="url(#e11e)" d="M2185.5,1825.7 C2310.1,1911.8 2394.4,1974.7 2436.5,2006.1"/>
<path class="e" stroke="url(#e11f)" d="M2436.5,2006.1 L2478.6,2037.5"/>
</g>
<g id="edge-StaticFeatureBuilder-FeatureMerger">
<path class="e" stroke="url(#e12a)" d="M2605.6,1440.2 L2558.7,1442.6"/>
<path class="e" stroke="url(#e12b)" d="M2558.7,1442.6 C2511.7,1444.9 2417.9,1449.6 2410.7,1415.9"/>
<path class="e" stroke="url(#e12c)" d="M2410.7,1415.9 C2403.5,1382.3 2483.1,1310.2 2522.8,1274.2"/>
<path class="e" stroke="url(#e12d)" d="M2522.8,1274.2 L2562.6,1238.2"/>
</g>
<g id="edge-TemporalFeatureBuilder-FeatureMerger">
<path class="e" stroke="url(#e13a)" d="M2605.6,1646.8 L2558.7,1617.3"/>
<path class="e" stroke="url(#e13b)" d="M2558.7,1617.3 C2511.7,1587.8 2417.9,1528.8 2410.7,1460.7"/>
<path class="e" stroke="url(#e13c)" d="M2410.7,1460.7 C2403.5,1392.6 2483.1,1315.4 2522.8,1276.8"/>
<path class="e" stroke="url(#e13d)" d="M2522.8,1276.8 L2562.6,1238.2"/>
</g>
<g id="edge-TemperaturePredictor-StreamlitInterface">
<path class="e" stroke="url(#e14a)" d="M640.4,1646.8 L696,1643.9"/>
<path class="e" stroke="url(#e14b)" d="M696,1643.9 C751.6,1641 862.7,1635.1 980.5,1600"/>
<path class="e" stroke="url(#e14c)" d="M980.5,1600 C1098.3,1564.9 1222.8,1500.6 1334,1494.7"/>
<path class="e" stroke="url(#e14d)" d="M1334,1494.7 C1445.2,1488.9 1543.1,1541.5 1682.1,1616.5"/>
<path class="e" stroke="url(#e14e)" d="M1682.1,1616.5 C1821.1,1691.4 2001,1788.6 2140.6,1862.5"/>
<path class="e" stroke="url(#e14f)" d="M2140.6,1862.5 C2280.2,1936.4 2379.4,1986.9 2429,2012.2"/>
<path class="e" stroke="url(#e14g)" d="M2429,2012.2 L2478.6,2037.5"/>
</g>
<g id="edge-TemperaturePredictor-CurvePlotter">
<path class="e" stroke="url(#e15a)" d="M640.4,1646.8 L694.6,1645.4"/>
<path class="e" stroke="url(#e15b)" d="M694.6,1645.4 C748.8,1644 857.3,1641.2 972.3,1609.2"/>
<path class="e" stroke="url(#e15c)" d="M972.3,1609.2 C1087.4,1577.1 1209,1515.8 1317.5,1513"/>
<path class="e" stroke="url(#e15d)" d="M1317.5,1513 C1425.9,1510.2 1521.1,1565.9 1623.2,1678.1"/>
<path class="e" stroke="url(#e15e)" d="M1623.2,1678.1 C1725.2,1790.2 1834.2,1958.8 1932.1,2079"/>
<path class="e" stroke="url(#e15f)" d="M1932.1,2079 C2030,2199.2 2116.8,2271 2160.3,2306.9"/>
<path class="e" stroke="url(#e15g)" d="M2160.3,2306.9 L2203.7,2342.8"/>
</g>
<g id="edge-WellWisePlotter-StreamlitInterface">
<path class="e" stroke="url(#e16a)" d="M2024.9,2446.1 L2017.5,2396.5"/>
<path class="e" stroke="url(#e16b)" d="M2017.5,2396.5 C2010,2346.9 1995.1,2247.6 1943.8,2114.7"/>
<path class="e" stroke="url(#e16c)" d="M1943.8,2114.7 C1892.6,1981.7 1804.9,1815 1844.8,1775.7"/>
<path class="e" stroke="url(#e16d)" d="M1844.8,1775.7 C1884.6,1736.5 2051.9,1824.6 2178.8,1889.5"/>
<path class="e" stroke="url(#e16e)" d="M2178.8,1889.5 C2305.7,1954.4 2392.1,1995.9 2435.4,2016.7"/>
<path class="e" stroke="url(#e16f)" d="M2435.4,2016.7 L2478.6,2037.5"/>
</g>
<g id="edge-CurvePlotter-WellWisePlotter">
<path class="e" stroke="url(#e17a)" d="M2203.7,2342.8 L2165.9,2311.7"/>
<path class="e" stroke="url(#e17b)" d="M2165.9,2311.7 C2128,2280.5 2052.3,2218.3 2022.5,2235.5"/>
<path class="e" stroke="url(#e17c)" d="M2022.5,2235.5 C1992.7,2252.7 2008.8,2349.4 2016.9,2397.8"/>
<path class="e" stroke="url(#e17d)" d="M2016.9,2397.8 L2024.9,2446.1"/>
</g>
<g id="edge-CSVUpload-InputValidator">
<path class="e" stroke="url(#e18a)" d="M1623,2531.5 L1607.9,2481.3"/>
<path class="e" stroke="url(#e18b)" d="M1607.9,2481.3 C1592.8,2431 1562.6,2330.5 1525.8,2223"/>
<path class="e" stroke="url(#e18c)" d="M1525.8,2223 C1489,2115.6 1445.7,2001.1 1363.9,1948.8"/>
<path class="e" stroke="url(#e18d)" d="M1363.9,1948.8 C1282.2,1896.5 1162,1906.2 1056.2,1931.4"/>
<path class="e" stroke="url(#e18e)" d="M1056.2,1931.4 C950.4,1956.5 858.9,1997 813.2,2017.3"/>
<path class="e" stroke="url(#e18f)" d="M813.2,2017.3 L767.4,2037.5"/>
</g>
<g id="edge-ManualInput-InputValidator">
<path class="e" stroke="url(#e19a)" d="M1417.6,2509.9 L1432.9,2462.9"/>
<path class="e" stroke="url(#e19b)" d="M1432.9,2462.9 C1448.2,2415.8 1478.7,2321.7 1473.6,2217.6"/>
<path class="e" stroke="url(#e19c)" d="M1473.6,2217.6 C1468.5,2113.4 1427.7,1999.3 1348.5,1947.2"/>
<path class="e" stroke="url(#e19d)" d="M1348.5,1947.2 C1269.3,1895.1 1151.8,1905.2 1048.5,1930.6"/>
<path class="e" stroke="url(#e19e)" d="M1048.5,1930.6 C945.3,1956 856.3,1996.7 811.9,2017.1"/>
<path class="e" stroke="url(#e19f)" d="M811.9,2017.1 L767.4,2037.5"/>
</g>
<g id="edge-InputValidator-WellTemperatureJoiner">
<path class="e" stroke="url(#e20a)" d="M767.4,2037.5 L809.5,2016.1"/>
<path class="e" stroke="url(#e20b)" d="M809.5,2016.1 C851.6,1994.7 935.9,1951.8 1034.4,1924.4"/>
<path class="e" stroke="url(#e20c)" d="M1034.4,1924.4 C1133,1896.9 1245.8,1884.7 1275.2,1917.4"/>
<path class="e" stroke="url(#e20d)" d="M1275.2,1917.4 C1304.6,1950 1250.6,2027.5 1197.8,2105.8"/>
<path class="e" stroke="url(#e20e)" d="M1197.8,2105.8 C1145.1,2184.2 1093.7,2263.5 1068,2303.2"/>
<path class="e" stroke="url(#e20f)" d="M1068,2303.2 L1042.3,2342.8"/>
</g>
</g>

<g id="nodes">
<g id="node-SQLiteIntegrator"><text transform="translate(1623,1543.5) rotate(-78) translate(1020,0)" dy="0.31em">SQLiteIntegrator</text></g>
<g id="node-MetricsExporter"><text transform="translate(1623,1543.5) rotate(-54) translate(1020,0)" dy="0.31em">MetricsExporter</text></g>
<g id="node-PerformanceMetrics"><text transform="translate(1623,1543.5) rotate(-42) translate(1020,0)" dy="0.31em">PerformanceMetrics</text></g>
<g id="node-FeatureMerger"><text transform="translate(1623,1543.5) rotate(-18) translate(1020,0)" dy="0.31em">FeatureMerger</text></g>
<g id="node-StaticFeatureBuilder"><text transform="translate(1623,1543.5) rotate(-6) translate(1020,0)" dy="0.31em">StaticFeatureBuilder</text></g>
<g id="node-TemporalFeatureBuilder"><text transform="translate(1623,1543.5) rotate(6) translate(1020,0)" dy="0.31em">TemporalFeatureBuilder</text></g>
<g id="node-StreamlitInterface"><text transform="translate(1623,1543.5) rotate(30) translate(1020,0)" dy="0.31em">StreamlitInterface</text></g>
<g id="node-CurvePlotter"><text transform="translate(1623,1543.5) rotate(54) translate(1020,0)" dy="0.31em">CurvePlotter</text></g>
<g id="node-WellWisePlotter"><text transform="translate(1623,1543.5) rotate(66) translate(1020,0)" dy="0.31em">WellWisePlotter</text></g>
<g id="node-CSVUpload"><text transform="translate(1623,1543.5) rotate(90) translate(1020,0) rotate(180)" dy="0.31em" text-anchor="end">CSVUpload</text></g>
<g id="node-ManualInput"><text transform="translate(1623,1543.5) rotate(102) translate(1020,0) rotate(180)" dy="0.31em" text-anchor="end">ManualInput</text></g>
<g id="node-WellTemperatureJoiner"><text transform="translate(1623,1543.5) rotate(126) translate(1020,0) rotate(180)" dy="0.31em" text-anchor="end">WellTemperatureJoiner</text></g>
<g id="node-InputValidator"><text transform="translate(1623,1543.5) rotate(150) translate(1020,0) rotate(180)" dy="0.31em" text-anchor="end">InputValidator</text></g>
<g id="node-TemperaturePredictor"><text transform="translate(1623,1543.5) rotate(174) translate(1020,0) rotate(180)" dy="0.31em" text-anchor="end">TemperaturePredictor</text></g>
<g id="node-MissingDataCleaner"><text transform="translate(1623,1543.5) rotate(198) translate(1020,0) rotate(180)" dy="0.31em" text-anchor="end">MissingDataCleaner</text></g>
<g id="node-ModelSerializer"><text transform="translate(1623,1543.5) rotate(222) translate(1020,0) rotate(180)" dy="0.31em" text-anchor="end">ModelSerializer</text></g>
<g id="node-RandomForestTrainer"><text transform="translate(1623,1543.5) rotate(246) translate(1020,0) rotate(180)" dy="0.31em" text-anchor="end">RandomForestTrainer</text></g>
<g id="node-TrainTestSplitter"><text transform="translate(1623,1543.5) rotate(258) translate(1020,0) rotate(180)" dy="0.31em" text-anchor="end">TrainTestSplitter</text></g>
</g>
</svg>
